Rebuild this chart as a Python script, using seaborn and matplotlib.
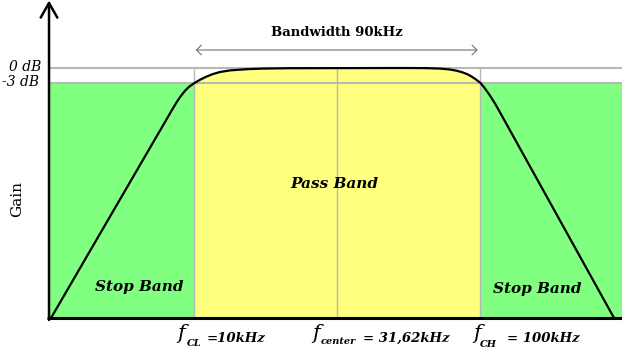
import numpy as np
import pandas as pd
import matplotlib
matplotlib.use("Agg")
import matplotlib.pyplot as plt
import seaborn as sns

# ------------------ style ------------------
sns.set_style("white")
plt.rcParams['font.family'] = ['DejaVu Serif']
plt.rcParams['text.color'] = 'black'

# ------------------ data ------------------
# band-pass response: frequency in kHz (log axis), gain in dB
freq_khz = [3.15, 7.887, 8.34, 8.687, 8.970, 9.264, 9.567, 10.0, 10.45, 10.97,
            11.61, 12.28, 13.31, 15.02, 17.22, 21.58, 52.31, 63.96, 72.18,
            78.2, 82.75, 86.88, 90.43, 93.39, 96.45, 100.0, 103.7, 107.9,
            112.4, 117.0, 293.1]
gain_db = [-50, -10.8, -8.4, -6.72, -5.56, -4.56, -3.76, -3.0, -2.36, -1.76,
           -1.2, -0.8, -0.48, -0.26, -0.12, -0.04, 0.0, -0.02, -0.12,
           -0.3, -0.56, -0.9, -1.3, -1.76, -2.3, -3.0, -4.1, -5.5,
           -7.1, -8.86, -50]

f_cl = 10.0
f_center = 31.62
f_ch = 100.0
level_0db = 0
level_3db = -3
floor_db = -50

f_axis = 3.10      # where the gain axis sits
f_left = 3.05
f_right = 312.5

GREEN = '#80ff80'
YELLOW = '#ffff80'
GREY = '#b8b8b8'

df = pd.DataFrame({'freq': freq_khz, 'gain': gain_db})

# ------------------ figure ------------------
fig = plt.figure(figsize=(6.22, 3.51), dpi=100)
ax = fig.add_axes([0, 0, 1, 1])
ax.set_xscale('log')
ax.set_xlim(2.089, f_right)
ax.set_ylim(-56.6, 13.6)
ax.axis('off')


def px(x, y):
    # pixel position -> figure fraction (for labels only)
    return x / 622, 1 - y / 351


# stop bands
ax.fill_between([f_axis, f_cl], floor_db, level_3db, color=GREEN, lw=0, zorder=1)
ax.fill_between([f_ch, f_right], floor_db, level_3db, color=GREEN, lw=0, zorder=1)

# pass band under the curve
pb = df[(df['freq'] >= f_cl) & (df['freq'] <= f_ch)]
ax.fill_between(pb['freq'], floor_db, pb['gain'], color=YELLOW, lw=0, zorder=1)

# grey reference lines
ax.plot([f_axis, f_right], [level_0db, level_0db], color=GREY, lw=1.5, zorder=2)
ax.plot([f_axis, f_right], [level_3db, level_3db], color=GREY, lw=1.5, zorder=2)
for f in [f_cl, f_center, f_ch]:
    ax.plot([f, f], [level_0db, floor_db], color=GREY, lw=1.0, zorder=2)

# response curve
sns.lineplot(data=df, x='freq', y='gain', sort=False, color='black', lw=1.6,
             ax=ax, zorder=3, solid_joinstyle='round')
ax.axis('off')

# axes
ax.plot([f_left, f_right], [floor_db, floor_db], color='black', lw=2.2,
        solid_capstyle='butt', zorder=4)
ax.annotate('', xy=(f_axis, 13.5), xytext=(f_axis, floor_db - 0.4),
            arrowprops=dict(arrowstyle='->,head_length=1.05,head_width=0.6',
                            lw=1.8, color='black', shrinkA=0, shrinkB=0),
            zorder=4)

# bandwidth arrow
ax.annotate('', xy=(f_cl * 1.01, 3.6), xytext=(f_ch * 0.978, 3.6),
            arrowprops=dict(arrowstyle='<->,head_length=0.35,head_width=0.35',
                            lw=0.8, color='#707070', shrinkA=0, shrinkB=0))

# ------------------ text ------------------
fig.text(*px(41, 67), '0 dB', ha='right', va='center', fontsize=10, style='italic')
fig.text(*px(39, 82), '-3 dB', ha='right', va='center', fontsize=10, style='italic')
fig.text(*px(17, 199), 'Gain', ha='center', va='center', fontsize=11, rotation=90)
fig.text(*px(337, 33), 'Bandwidth 90kHz', ha='center', va='center', fontsize=9.5,
         fontweight='bold')
fig.text(*px(334, 184), 'Pass Band', ha='center', va='center', fontsize=11,
         fontweight='bold', style='italic')
fig.text(*px(139, 287), 'Stop Band', ha='center', va='center', fontsize=11,
         fontweight='bold', style='italic')
fig.text(*px(537, 289), 'Stop Band', ha='center', va='center', fontsize=11,
         fontweight='bold', style='italic')

bottom_labels = [
    (177, 'CL', 187, 346, '=10kHz', 207),
    (312, 'center', 321, 344, '= 31,62kHz', 363),
    (473, 'CH', 480, 347, '= 100kHz', 507),
]
for fx, sub, sx, sy, rest, rx in bottom_labels:
    fig.text(*px(fx, 339), 'f', ha='left', va='baseline', fontsize=15, style='italic')
    fig.text(*px(sx, sy), sub, ha='left', va='baseline',
             fontsize=7, fontweight='bold', style='italic')
    fig.text(*px(rx, 342), rest, ha='left', va='baseline', fontsize=9.5,
             fontweight='bold', style='italic')

fig.savefig('out.png', dpi=100)
